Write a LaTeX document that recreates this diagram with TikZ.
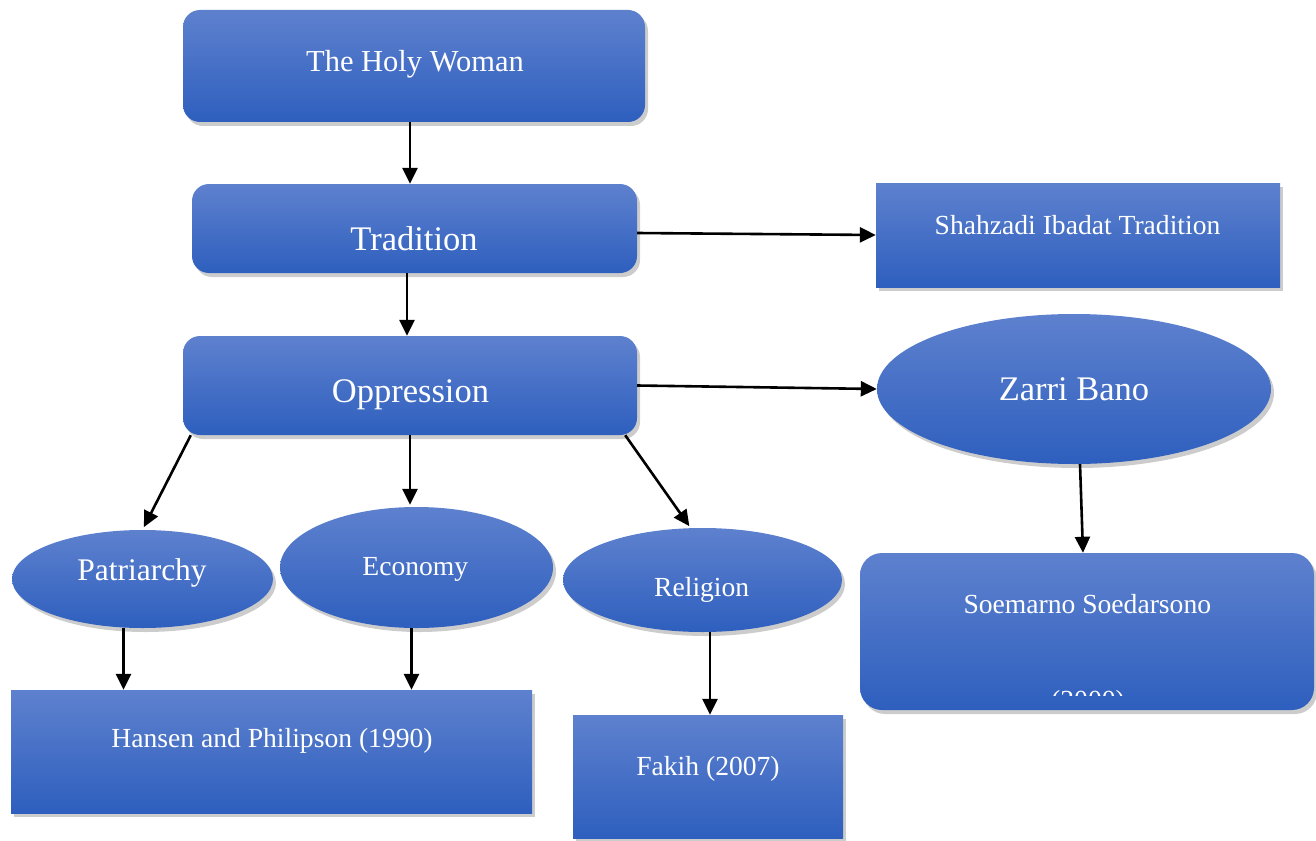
\documentclass[tikz,border=0pt]{standalone}
\usepackage{fontspec}
\setmainfont{Liberation Serif}
\usetikzlibrary{shapes.geometric,arrows.meta,shadows}
\definecolor{boxtop}{RGB}{94,129,206}
\definecolor{boxbot}{RGB}{46,95,190}

\begin{document}
\begin{tikzpicture}[x=1pt,y=-1pt,
        blob/.style={top color=boxtop,bottom color=boxbot,draw=none,inner sep=0pt,
            drop shadow={opacity=0.4,shadow xshift=3pt,shadow yshift=-4pt}},
        rbox/.style={blob,rectangle,rounded corners=17pt},
        sbox/.style={blob,rectangle},
        oval/.style={blob,ellipse},
        txt/.style={text=white,inner sep=0pt,anchor=base,font=\fontsize{#1}{#1}\selectfont},
        txt/.default=27.6,
        link/.style={-{Triangle[length=16pt,width=15pt]},line width=2.6pt}]
            \useasboundingbox (0,0) rectangle (1316,840);

            \node[rbox,minimum width=462pt,minimum height=112pt] (holy) at (414,66) {};
            \node[rbox,minimum width=445pt,minimum height=89pt] (trad) at (414.5,228.5) {};
            \node[rbox,minimum width=454pt,minimum height=99pt] (opp) at (410,385.5) {};
            \node[sbox,minimum width=404pt,minimum height=104pt] (shah) at (1078,235) {};
            \node[oval,minimum width=394pt,minimum height=150pt] (zarri) at (1074,389) {};
            \node[oval,minimum width=261pt,minimum height=98pt] (patr) at (142.5,579) {};
            \node[oval,minimum width=273pt,minimum height=121pt] (econ) at (416.5,567.5) {};
            \node[oval,minimum width=279pt,minimum height=104pt] (reli) at (702.5,580) {};
            \node[rbox,rounded corners=22pt,minimum width=454pt,minimum height=157pt] (soem) at (1087,631.5) {};
            \node[sbox,minimum width=521pt,minimum height=123pt] (hans) at (271.5,751.5) {};
            \node[sbox,minimum width=270pt,minimum height=123pt] (fakih) at (708,776.5) {};

            \node[txt=30.5] (holy-t) at (415,71.7) {The Holy Woman};
            \node[txt=34.5] (trad-t) at (414,250.7) {Tradition};
            \node[txt=34.5] (opp-t) at (410.5,402.3) {Oppression};
            \node[txt] (shah-t) at (1077.5,234.3) {Shahzadi Ibadat Tradition};
            \node[txt=34.5] (zarri-t) at (1074,400.7) {Zarri Bano};
            \node[txt=31.5] (patr-t) at (142,580.7) {Patriarchy};
            \node[txt] (econ-t) at (415.3,575) {Economy};
            \node[txt] (reli-t) at (701.7,596.7) {Religion};
            \node[txt] (soem-t) at (1087.3,613) {Soemarno Soedarsono};
            \node[txt] (hans-t) at (272,747) {Hansen and Philipson (1990)};
            \node[txt] (fakih-t) at (708,775) {Fakih (2007)};
            \begin{scope}
                \clip (860,553) rectangle (1314,695);
                \node[txt] (soem-yr) at (1088,709) {(2000)};
            \end{scope}

            \draw[link] ([xshift=-4pt]holy.south) -- ([xshift=-4pt]holy.south |- trad.north);
            \draw[link] ([xshift=-7.5pt]trad.south) -- ([xshift=-7.5pt]trad.south |- opp.north);
            \draw[link] ([yshift=-4.5pt]trad.east) -- (shah.west);
            \draw[link] (opp.east) -- (zarri.west);
            \draw[link,shorten >=3pt] ([xshift=8pt]opp.south west) -- (patr.north);
            \draw[link,shorten >=2pt] (opp.south) -- (opp.south |- econ.north);
            \draw[link,shorten >=2pt] ([xshift=-12pt]opp.south east) -- ([xshift=-12pt]reli.north);
            \draw[link] ([xshift=-19pt]patr.south) -- ([xshift=-19pt]patr.south |- hans.north);
            \draw[link] ([xshift=-5pt]econ.south) -- ([xshift=-5pt]econ.south |- hans.north);
            \draw[link] ([xshift=7.5pt]reli.south) -- ([xshift=7.5pt]reli.south |- fakih.north);
            \draw[link] ([xshift=6pt]zarri.south) -- ([xshift=-4pt]soem.north);
        \end{tikzpicture}
\end{document}
